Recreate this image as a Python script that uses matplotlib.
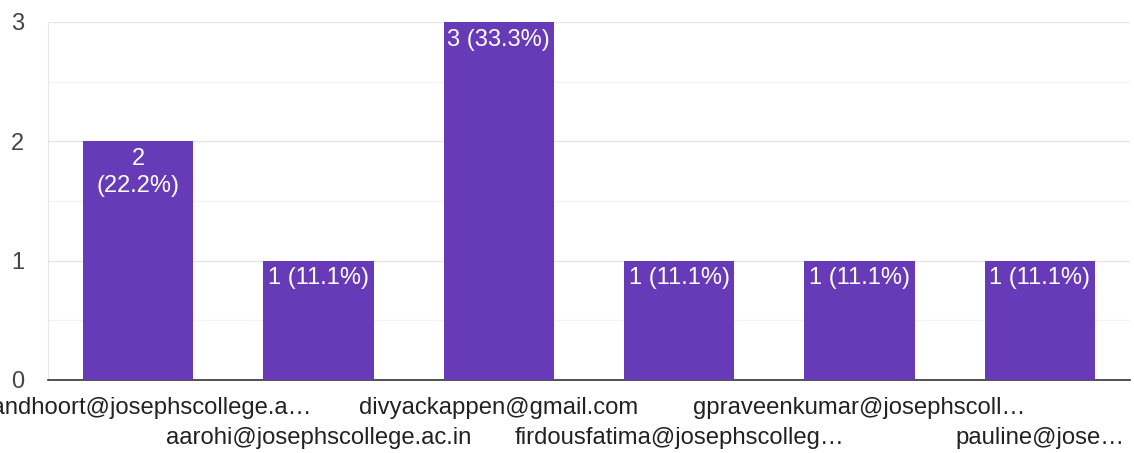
import matplotlib.pyplot as plt
from matplotlib.ticker import MultipleLocator

plt.rcParams['font.family'] = ['Liberation Sans', 'DejaVu Sans']

labels = ['anandhoort@josephscollege.a…', 'aarohi@josephscollege.ac.in',
          'divyackappen@gmail.com', 'firdousfatima@josephscolleg…',
          'gpraveenkumar@josephscoll…', 'pauline@jose…']
counts = [2, 1, 3, 1, 1, 1]
bar_text = ['2\n(22.2%)', '1 (11.1%)', '3 (33.3%)', '1 (11.1%)', '1 (11.1%)', '1 (11.1%)']

fig = plt.figure(figsize=(11.34, 4.53), dpi=100)
ax = fig.add_axes([48 / 1134, 73 / 453, 1082 / 1134, 358 / 453])

x = list(range(len(counts)))
ax.bar(x, counts, width=0.61, color='#673ab7', zorder=3)
for i, (c, t) in enumerate(zip(counts, bar_text)):
    ax.text(i, c - 0.055, t, ha='center', va='top', color='white',
            fontsize=17, linespacing=1.3, zorder=4)

ax.set_xlim(-0.5, 5.5)
ax.set_ylim(0, 3)
ax.yaxis.set_major_locator(MultipleLocator(1))
ax.yaxis.set_minor_locator(MultipleLocator(0.5))
ax.grid(axis='y', which='major', color='#e6e6e6', lw=1, zorder=0)
ax.grid(axis='y', which='minor', color='#f3f3f3', lw=1, zorder=0)
ax.tick_params(axis='y', which='both', length=0, labelsize=17, labelcolor='#444444', pad=17)
ax.tick_params(axis='x', length=0)
ax.set_xticks(x)
ax.set_xticklabels([])

for s in ['top', 'right']:
    ax.spines[s].set_visible(False)
ax.spines['left'].set_color('#e6e6e6')
ax.spines['bottom'].set_color('#333333')
ax.spines['bottom'].set_linewidth(1.2)

# the first label runs off the left edge, as in the original
for i, lab in enumerate(labels):
    y_off = -28 if i % 2 == 0 else -58
    ax.annotate(lab, xy=(i, 0), xytext=(0, y_off), textcoords='offset pixels',
                ha='center', va='center', fontsize=17.2, color='#222222', annotation_clip=False)

fig.savefig('out.png', dpi=100)
